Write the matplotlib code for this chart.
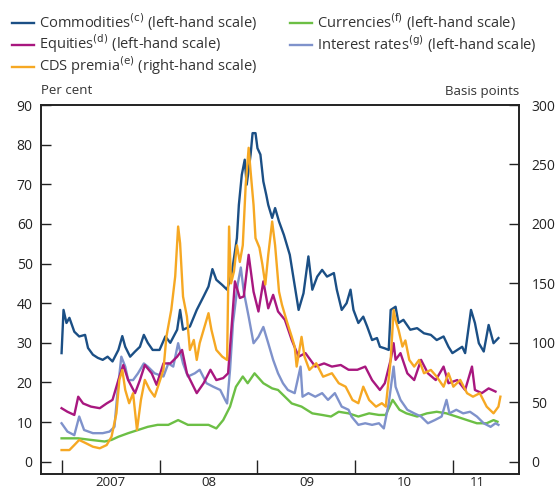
import matplotlib
matplotlib.use("Agg")
import matplotlib.pyplot as plt
from matplotlib.lines import Line2D

# decimal-year, value pairs
commodities = [(2007.00, 27.4), (2007.02, 38.3), (2007.05, 35.0), (2007.08, 36.3), (2007.13, 32.8),
               (2007.18, 31.6), (2007.24, 32.0), (2007.27, 28.7), (2007.32, 27.0), (2007.37, 26.2),
               (2007.42, 25.7), (2007.47, 26.5), (2007.52, 25.3), (2007.58, 28.2), (2007.62, 31.7),
               (2007.65, 29.0), (2007.70, 26.5), (2007.75, 27.8), (2007.80, 29.0), (2007.84, 32.0),
               (2007.88, 30.0), (2007.93, 28.2), (2008.00, 28.2), (2008.06, 31.6), (2008.11, 30.0),
               (2008.18, 33.3), (2008.21, 38.3), (2008.24, 33.3), (2008.31, 34.1), (2008.38, 38.3),
               (2008.45, 41.7), (2008.50, 44.2), (2008.54, 48.6), (2008.58, 45.9), (2008.64, 44.6),
               (2008.69, 43.4), (2008.74, 48.0), (2008.79, 56.4), (2008.81, 64.8), (2008.84, 72.4),
               (2008.87, 76.2), (2008.89, 69.9), (2008.93, 77.5), (2008.95, 82.9), (2008.98, 82.9),
               (2009.00, 79.1), (2009.03, 77.5), (2009.06, 70.7), (2009.09, 67.3), (2009.11, 64.8),
               (2009.15, 61.5), (2009.18, 64.0), (2009.22, 60.6), (2009.27, 57.2), (2009.30, 54.7),
               (2009.33, 52.2), (2009.37, 46.0), (2009.42, 38.3), (2009.47, 42.5), (2009.52, 51.8),
               (2009.56, 43.4), (2009.61, 46.7), (2009.66, 48.4), (2009.71, 46.7), (2009.78, 47.6),
               (2009.81, 43.4), (2009.86, 38.3), (2009.91, 40.0), (2009.95, 43.4), (2009.98, 38.3),
               (2010.03, 35.0), (2010.08, 36.6), (2010.12, 34.1), (2010.17, 30.7), (2010.22, 31.2),
               (2010.25, 29.0), (2010.30, 28.6), (2010.34, 28.2), (2010.36, 38.3), (2010.41, 39.1),
               (2010.44, 35.0), (2010.49, 35.8), (2010.56, 33.3), (2010.63, 33.7), (2010.70, 32.4),
               (2010.77, 32.0), (2010.83, 30.7), (2010.90, 31.6), (2010.95, 29.0), (2010.99, 27.4),
               (2011.04, 28.2), (2011.09, 29.0), (2011.12, 27.4), (2011.18, 38.3), (2011.22, 35.0),
               (2011.26, 29.9), (2011.31, 27.8), (2011.36, 34.5), (2011.41, 29.9), (2011.46, 31.2)]

equities = [(2007.00, 13.5), (2007.06, 12.6), (2007.13, 11.8), (2007.17, 16.4), (2007.22, 14.7),
            (2007.30, 13.9), (2007.39, 13.5), (2007.46, 14.7), (2007.52, 15.6), (2007.58, 20.6),
            (2007.63, 24.4), (2007.68, 20.6), (2007.75, 17.3), (2007.80, 20.6), (2007.85, 24.4),
            (2007.92, 22.3), (2007.97, 19.4), (2008.04, 24.8), (2008.11, 24.8), (2008.18, 26.5),
            (2008.23, 28.2), (2008.28, 22.3), (2008.33, 19.8), (2008.38, 17.3), (2008.45, 19.8),
            (2008.52, 23.2), (2008.58, 20.6), (2008.65, 21.1), (2008.70, 22.3), (2008.74, 35.4),
            (2008.77, 45.5), (2008.82, 41.3), (2008.86, 41.7), (2008.91, 52.2), (2008.96, 42.9),
            (2009.01, 37.9), (2009.06, 45.5), (2009.11, 38.7), (2009.16, 42.1), (2009.21, 37.9),
            (2009.28, 35.8), (2009.35, 30.7), (2009.42, 26.5), (2009.49, 27.4), (2009.59, 24.0),
            (2009.68, 24.8), (2009.76, 24.0), (2009.85, 24.4), (2009.93, 23.2), (2010.02, 23.2),
            (2010.10, 24.0), (2010.17, 20.6), (2010.25, 18.1), (2010.30, 19.8), (2010.36, 25.7),
            (2010.39, 29.9), (2010.41, 25.7), (2010.46, 27.4), (2010.53, 22.3), (2010.60, 20.6),
            (2010.67, 25.7), (2010.74, 22.3), (2010.82, 20.6), (2010.90, 24.0), (2010.95, 19.8),
            (2011.04, 20.6), (2011.12, 18.1), (2011.19, 24.0), (2011.22, 18.1), (2011.29, 17.3),
            (2011.36, 18.5), (2011.43, 17.7)]

currencies = [(2007.00, 5.9), (2007.17, 5.9), (2007.30, 5.5), (2007.44, 5.1), (2007.51, 5.5),
              (2007.58, 6.3), (2007.68, 7.2), (2007.78, 8.0), (2007.88, 8.8), (2007.98, 9.3),
              (2008.09, 9.3), (2008.19, 10.5), (2008.29, 9.3), (2008.39, 9.3), (2008.50, 9.3),
              (2008.58, 8.4), (2008.65, 10.5), (2008.72, 13.9), (2008.78, 18.9), (2008.85, 21.5),
              (2008.90, 19.8), (2008.97, 22.3), (2009.06, 19.8), (2009.15, 18.5), (2009.21, 18.1),
              (2009.28, 16.4), (2009.35, 14.7), (2009.45, 13.9), (2009.56, 12.2), (2009.66, 11.8),
              (2009.75, 11.4), (2009.83, 12.6), (2009.93, 12.2), (2010.03, 11.4), (2010.14, 12.2),
              (2010.24, 11.8), (2010.31, 11.8), (2010.38, 15.6), (2010.45, 13.1), (2010.52, 12.2),
              (2010.63, 11.4), (2010.73, 12.2), (2010.83, 12.6), (2010.93, 12.2), (2011.03, 11.4),
              (2011.14, 10.5), (2011.24, 9.7), (2011.34, 9.7), (2011.41, 10.5), (2011.45, 10.1)]

interest_rates = [(2007.00, 9.7), (2007.06, 7.6), (2007.13, 6.7), (2007.18, 11.4), (2007.23, 8.0),
                  (2007.32, 7.2), (2007.42, 7.2), (2007.49, 7.6), (2007.54, 8.8), (2007.57, 17.3),
                  (2007.61, 26.5), (2007.65, 24.0), (2007.68, 20.6), (2007.73, 20.6), (2007.78, 22.3),
                  (2007.84, 24.8), (2007.88, 24.0), (2007.95, 22.3), (2008.04, 21.5), (2008.09, 24.8),
                  (2008.14, 24.0), (2008.19, 29.9), (2008.24, 24.8), (2008.29, 21.5), (2008.36, 22.3),
                  (2008.41, 23.2), (2008.48, 19.8), (2008.55, 18.9), (2008.62, 18.1), (2008.67, 15.6),
                  (2008.69, 14.7), (2008.72, 23.2), (2008.75, 35.0), (2008.80, 45.0), (2008.83, 49.0),
                  (2008.86, 42.9), (2008.91, 36.6), (2008.96, 29.9), (2009.01, 31.5), (2009.06, 34.0),
                  (2009.11, 29.9), (2009.16, 25.7), (2009.21, 22.3), (2009.26, 19.8), (2009.31, 18.1),
                  (2009.38, 17.3), (2009.44, 24.0), (2009.46, 16.4), (2009.52, 17.3), (2009.59, 16.4),
                  (2009.66, 17.3), (2009.72, 15.6), (2009.79, 17.3), (2009.86, 13.9), (2009.93, 13.1),
                  (2009.96, 11.4), (2010.03, 9.3), (2010.10, 9.7), (2010.17, 9.3), (2010.24, 9.7),
                  (2010.29, 8.4), (2010.34, 14.7), (2010.39, 24.0), (2010.41, 18.9), (2010.46, 15.6),
                  (2010.53, 13.1), (2010.60, 12.2), (2010.67, 11.4), (2010.74, 9.7), (2010.81, 10.5),
                  (2010.88, 11.4), (2010.93, 15.6), (2010.96, 12.2), (2011.03, 13.1), (2011.10, 12.2),
                  (2011.17, 12.6), (2011.24, 11.4), (2011.31, 9.7), (2011.38, 8.8), (2011.43, 9.7),
                  (2011.46, 9.3)]

# basis points, right-hand scale
cds_premia = [(2007.00, 9.8), (2007.08, 9.8), (2007.13, 14.0), (2007.18, 18.3), (2007.25, 15.5),
              (2007.32, 12.6), (2007.39, 11.3), (2007.46, 14.0), (2007.51, 21.0), (2007.56, 40.7),
              (2007.59, 68.8), (2007.62, 77.2), (2007.65, 60.4), (2007.69, 49.2), (2007.73, 57.6),
              (2007.77, 26.7), (2007.81, 51.9), (2007.85, 68.8), (2007.90, 60.4), (2007.95, 54.7),
              (2008.04, 77.2), (2008.07, 105.0), (2008.12, 127.7), (2008.16, 155.7), (2008.19, 197.8),
              (2008.21, 183.8), (2008.24, 138.9), (2008.28, 122.0), (2008.31, 94.0), (2008.35, 102.4),
              (2008.38, 85.6), (2008.41, 99.7), (2008.45, 110.9), (2008.50, 124.9), (2008.53, 110.9),
              (2008.58, 94.0), (2008.64, 88.4), (2008.69, 85.6), (2008.71, 197.8), (2008.73, 150.0),
              (2008.76, 160.0), (2008.79, 182.0), (2008.82, 168.0), (2008.85, 182.0), (2008.88, 233.0),
              (2008.91, 264.0), (2008.93, 244.0), (2008.96, 216.0), (2008.98, 188.0), (2009.02, 180.0),
              (2009.05, 166.0), (2009.08, 149.0), (2009.11, 174.0), (2009.15, 202.0), (2009.18, 182.0),
              (2009.22, 143.0), (2009.25, 132.0), (2009.30, 118.0), (2009.35, 105.0), (2009.38, 96.8),
              (2009.40, 80.0), (2009.45, 105.0), (2009.48, 88.4), (2009.53, 77.2), (2009.60, 82.8),
              (2009.67, 71.5), (2009.76, 74.4), (2009.83, 66.0), (2009.90, 63.1), (2009.97, 51.9),
              (2010.03, 49.2), (2010.08, 63.1), (2010.14, 51.9), (2010.21, 46.3), (2010.27, 49.2),
              (2010.31, 46.3), (2010.36, 85.6), (2010.39, 127.7), (2010.41, 119.0), (2010.44, 111.0),
              (2010.48, 96.8), (2010.51, 102.0), (2010.55, 85.6), (2010.60, 80.0), (2010.65, 85.6),
              (2010.70, 74.4), (2010.77, 77.2), (2010.83, 71.5), (2010.90, 63.1), (2010.95, 74.4),
              (2011.00, 63.1), (2011.07, 68.8), (2011.14, 57.6), (2011.20, 54.7), (2011.27, 57.6),
              (2011.34, 46.3), (2011.41, 40.7), (2011.46, 46.3), (2011.48, 54.7)]

year_ticks = [2007, 2008, 2009, 2010, 2011]
year_label_pos = [2007.5, 2008.5, 2009.5, 2010.5, 2011.24]
year_labels = ["2007", "08", "09", "10", "11"]

left_ticks = [0, 10, 20, 30, 40, 50, 60, 70, 80, 90]
right_ticks = [0, 50, 100, 150, 200, 250, 300]

plt.rcParams['font.family'] = ['Open Sans', 'DejaVu Sans']

C_COMM = "#1b4f85"
C_EQ = "#a8177f"
C_CDS = "#f6a823"
C_CUR = "#6cbf45"
C_IR = "#7f92cb"
LW = 1.7
W, H = 555, 493

fig = plt.figure(figsize=(5.55, 4.93), dpi=100)
ax = fig.add_axes([41 / W, 19 / H, 478 / W, 369 / H])
ax2 = ax.twinx()


def unzip(pairs):
    return [p[0] for p in pairs], [p[1] for p in pairs]


ax.plot(*unzip(currencies), color=C_CUR, lw=LW)
ax.plot(*unzip(interest_rates), color=C_IR, lw=LW)
ax.plot(*unzip(equities), color=C_EQ, lw=LW)
ax.plot(*unzip(commodities), color=C_COMM, lw=LW)
ax2.plot(*unzip(cds_premia), color=C_CDS, lw=LW)

ax.set_xlim(2006.79, 2011.67)
ax.set_ylim(-3.1, 90)
ax2.set_ylim(-3.1 * 300 / 90, 300)

ax.set_yticks(left_ticks)
ax2.set_yticks(right_ticks)
ax.tick_params(axis='y', direction='in', length=7, width=1, labelsize=10, pad=6, colors='#222222')
ax2.tick_params(axis='y', direction='in', length=7, width=1, labelsize=10, pad=9, colors='#222222')

ax.set_xticks(year_ticks)
ax.set_xticklabels([])
ax.tick_params(axis='x', which='major', direction='in', length=10, width=1, colors='#222222')
ax.set_xticks(year_label_pos, minor=True)
ax.set_xticklabels(year_labels, minor=True)
ax.tick_params(axis='x', which='minor', length=0, labelsize=9.5, pad=1.5, colors='#222222')

for a in (ax, ax2):
    for s in a.spines.values():
        s.set_linewidth(1.2)
        s.set_color('#222222')

fig.text(41 / W, 1 - 91 / H, "Per cent", fontsize=9.5, ha='left', va='center', color='#333333')
fig.text(519 / W, 1 - 91 / H, "Basis points", fontsize=9.5, ha='right', va='center', color='#333333')

# key, laid out by hand in two columns
key = [(C_COMM, r"Commodities$^{\mathrm{(c)}}$ (left-hand scale)", 12, 22),
       (C_EQ, r"Equities$^{\mathrm{(d)}}$ (left-hand scale)", 12, 44),
       (C_CDS, r"CDS premia$^{\mathrm{(e)}}$ (right-hand scale)", 12, 66),
       (C_CUR, r"Currencies$^{\mathrm{(f)}}$ (left-hand scale)", 290, 22),
       (C_IR, r"Interest rates$^{\mathrm{(g)}}$ (left-hand scale)", 290, 44)]
for color, text, x0, y0 in key:
    fig.add_artist(Line2D([x0 / W, (x0 + 22) / W], [1 - (y0 + 1) / H, 1 - (y0 + 1) / H],
                          color=color, lw=LW, transform=fig.transFigure))
    fig.text((x0 + 27) / W, 1 - y0 / H, text, fontsize=10.5, ha='left', va='center',
             color='#333333')

fig.savefig("out.png", dpi=100)
